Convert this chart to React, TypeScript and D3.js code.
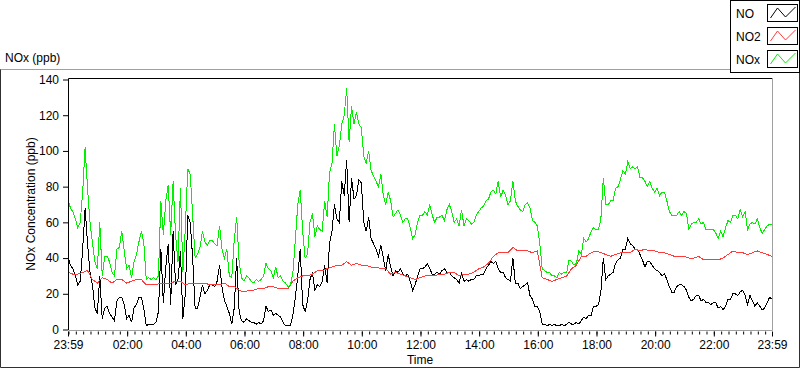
import { useRef, useEffect } from 'react';
import * as d3 from 'd3';

// NO and NOx are read every 5 minutes, NO2 every 10 minutes, starting at 23:59
const NO_STEP = 5;
const NOX_STEP = 5;
const NO2_STEP = 10;

const NO_VALUES = [
  41, 36, 34, 30, 25, 27, 45, 68, 48, 32, 25, 12, 9, 30, 6, 12, 13, 9, 7, 5,
  16, 18, 18, 14, 6, 8, 4, 12, 14, 18, 18, 12, 2, 3, 3, 3, 4, 10, 45, 15,
  35, 48, 14, 55, 25, 28, 44, 6, 20, 64, 60, 40, 12, 12, 18, 25, 20, 22, 25,
  25, 24, 27, 36, 24, 16, 13, 9, 3, 12, 40, 10, 5, 4, 6, 5, 4, 4, 3, 4,
  3, 5, 13, 10, 11, 8, 9, 8, 7, 4, 2, 2, 2, 8, 18, 30, 45, 14, 10, 16,
  28, 32, 22, 25, 24, 27, 36, 26, 48, 55, 70, 62, 60, 83, 75, 95, 60, 85,
  73, 75, 84, 82, 60, 55, 63, 51, 48, 45, 41, 47, 40, 33, 42, 35, 30, 33, 32, 34,
  31, 30, 31, 27, 22, 25, 30, 34, 34, 35, 37, 34, 31, 31, 32, 31, 33, 34, 32, 32,
  30, 29, 28, 26, 32, 27, 28, 27, 28, 28, 30, 30, 31, 31, 34, 36, 38, 37,
  38, 34, 32, 32, 29, 28, 27, 40, 26, 26, 23, 24, 25, 26, 19, 17, 13, 13, 10, 3,
  3, 2, 3, 2, 3, 2, 2, 3, 2, 3, 4, 3, 3, 4, 3, 5, 7, 6, 8, 8,
  13, 13, 14, 21, 40, 28, 30, 31, 32, 37, 39, 40, 45, 45, 51, 48, 47, 45,
  45, 42, 39, 35, 38, 38, 36, 34, 33, 32, 30, 31, 28, 24, 21, 21, 24, 25, 25, 24,
  22, 18, 16, 17, 19, 19, 16, 17, 15, 15, 14, 15, 15, 12, 13, 11, 13, 17, 17, 20,
  20, 19, 21, 22, 19, 14, 19, 16, 13, 15, 13, 11, 12, 15, 18, 17,
];

const NO2_VALUES = [
  32, 31, 31, 32, 33, 28, 26, 29, 28, 26, 28, 28, 26, 27, 28, 28, 25, 25, 25, 26,
  26, 26, 27, 27, 25, 26, 26, 26, 26, 25,
  25, 25, 26, 24, 24, 22, 21, 22, 22, 23, 23, 24, 24, 23, 23, 23, 27, 29, 30, 30,
  31, 33, 33, 34, 35, 36, 36, 38, 36,
  37, 36, 36, 35, 35, 34, 34, 31, 32, 31, 30, 29, 28, 29, 30, 30, 30, 31, 31, 32,
  32, 30, 31, 31, 32, 34, 35, 37, 41,
  43, 43, 43, 46, 44, 44, 44, 43, 44, 29, 28, 27, 28, 29, 30, 34, 36, 41, 41, 43,
  44, 43, 42, 41, 42, 43, 43, 43, 45,
  44, 45, 44, 44, 43, 43, 42, 41, 41, 41, 40, 40, 41, 39, 39, 39, 39, 40, 42, 44,
  43, 43, 42, 43, 44, 43, 42, 41,
];

const NOX_VALUES = [
  73, 68, 66, 62, 57, 60, 77, 102, 79, 60, 49, 38, 34, 60, 30, 41, 41, 38, 32, 30,
  45, 46, 55, 44, 34, 36, 29, 38, 42, 49, 55, 49, 28, 29, 28, 29, 28, 30, 72, 53,
  72, 81, 53, 83, 53, 38, 79, 32, 57, 90, 87, 64, 40, 42, 46, 55, 49, 47, 50,
  50, 48, 47, 58, 45, 40, 45, 30, 29, 50, 63, 38, 29, 27, 30, 29, 27, 26, 28, 27,
  28, 30, 37, 34, 33, 29, 35, 29, 30, 27, 26, 24, 25, 32, 50, 70, 78, 55, 40, 42,
  60, 65, 52, 58, 56, 55, 72, 63, 88, 93, 115, 97, 103, 115, 120, 135, 105, 125,
  115, 122, 115, 113, 97, 93, 100, 89, 86, 83, 80, 87, 75, 70, 77, 72, 63, 65, 67, 64,
  60, 62, 62, 57, 51, 53, 60, 64, 64, 66, 64, 70, 64, 60, 63, 63, 64, 61, 67, 70,
  66, 60, 62, 58, 67, 58, 62, 61, 59, 60, 64, 66, 68, 69, 72, 73, 77, 78,
  76, 83, 74, 78, 75, 70, 72, 83, 72, 69, 67, 66, 70, 71, 68, 61, 60, 58, 48, 34,
  33, 32, 32, 30, 30, 29, 32, 31, 32, 32, 39, 38, 36, 37, 44, 42, 51, 49, 51, 55,
  57, 56, 56, 62, 85, 70, 70, 72, 72, 79, 80, 84, 89, 87, 94, 90, 91, 90,
  91, 85, 85, 83, 80, 83, 79, 77, 79, 75, 77, 77, 72, 66, 64, 64, 64, 66, 64, 66,
  65, 56, 59, 60, 60, 62, 59, 60, 56, 56, 56, 56, 54, 51, 55, 52, 57, 61, 60, 64,
  64, 62, 67, 63, 66, 56, 59, 60, 59, 62, 57, 54, 56, 58, 59, 59,
];

const SERIES_NAMES = ['NO', 'NO2', 'NOx'];
const SERIES_COLORS = ['#000000', '#ff3c3c', '#00f000'];

const Y_TICKS = [0, 20, 40, 60, 80, 100, 120, 140];
const X_TICK_LABELS = [
  '23:59', '02:00', '04:00', '06:00', '08:00', '10:00', '12:00',
  '14:00', '16:00', '18:00', '20:00', '22:00', '23:59',
];

const TOTAL_MINUTES = 1440;
const START = new Date(2024, 0, 1, 23, 59);
const atMinute = (m: number) => new Date(START.getTime() + m * 60000);

// minutes after the 23:59 start for a 'HH:MM' label
const labelMinutes = (label: string, i: number) => {
  if (i === X_TICK_LABELS.length - 1) return TOTAL_MINUTES;
  const [h, m] = label.split(':').map(Number);
  return (h * 60 + m - (23 * 60 + 59) + TOTAL_MINUTES) % TOTAL_MINUTES;
};

const FONT = '"Liberation Sans", Arial, sans-serif';
const WIDTH = 800;
const HEIGHT = 369;

export default function App() {
  const svgRef = useRef<SVGSVGElement>(null);

  useEffect(() => {
    if (!svgRef.current) return;
    const svg = d3.select(svgRef.current);
    svg.selectAll('*').remove();

    const plot = { left: 68, right: 772, top: 78, bottom: 330 };

    const x = d3.scaleTime()
      .domain([START, atMinute(TOTAL_MINUTES)])
      .range([plot.left, plot.right]);
    const y = d3.scaleLinear()
      .domain([0, 140])
      .range([329.5, 79.5]);

    // panel frame
    svg.append('line')
      .attr('x1', 0).attr('x2', 730).attr('y1', 69.5).attr('y2', 69.5)
      .attr('stroke', '#a0a0a0');
    svg.append('path')
      .attr('d', 'M0.5,69.5V367.5H799.5V72')
      .attr('fill', 'none')
      .attr('stroke', '#303030');

    svg.append('text')
      .attr('x', 5).attr('y', 62)
      .attr('font-family', FONT).attr('font-size', 12)
      .text('NOx (ppb)');

    // plot area
    svg.append('rect')
      .attr('x', plot.left).attr('y', plot.top)
      .attr('width', plot.right - plot.left).attr('height', plot.bottom - plot.top)
      .attr('fill', '#fff');

    const series = [
      { values: NO_VALUES, step: NO_STEP },
      { values: NO2_VALUES, step: NO2_STEP },
      { values: NOX_VALUES, step: NOX_STEP },
    ];

    const lines = svg.append('g').attr('shape-rendering', 'crispEdges');
    series.forEach((s, k) => {
      const line = d3.line<number>()
        .x((_, i) => x(atMinute(i * s.step)))
        .y(d => y(d));
      lines.append('path')
        .attr('d', line(s.values))
        .attr('fill', 'none')
        .attr('stroke', SERIES_COLORS[k])
        .attr('stroke-width', 1);
    });

    // plot border: dark top/left, grey bottom/right
    svg.append('path')
      .attr('d', `M${plot.left + 0.5},${plot.bottom}V${plot.top + 0.5}H${plot.right}`)
      .attr('fill', 'none').attr('stroke', '#000');
    svg.append('path')
      .attr('d', `M${plot.left + 0.5},${plot.bottom + 0.5}H${plot.right + 0.5}V${plot.top}`)
      .attr('fill', 'none').attr('stroke', '#a0a0a0');

    // y axis
    const yAxis = svg.append('g')
      .attr('transform', `translate(${plot.left},0)`)
      .call(d3.axisLeft(y).tickValues(Y_TICKS).tickSize(5).tickPadding(4));
    yAxis.select('.domain').remove();
    yAxis.selectAll('text').attr('font-family', FONT).attr('font-size', 12).attr('fill', '#000');

    // x axis: minor ticks every 15 minutes, labelled major ticks
    const minorTicks = d3.range(1, TOTAL_MINUTES + 1, 15).map(atMinute);
    const xMinor = svg.append('g')
      .attr('transform', `translate(0,${plot.bottom + 1.5})`)
      .call(d3.axisBottom(x).tickValues(minorTicks).tickSize(3).tickFormat(() => ''));
    xMinor.select('.domain').remove();

    const majorTicks = X_TICK_LABELS.map((l, i) => atMinute(labelMinutes(l, i)));
    const xMajor = svg.append('g')
      .attr('transform', `translate(0,${plot.bottom + 1.5})`)
      .call(
        d3.axisBottom(x)
          .tickValues(majorTicks)
          .tickSize(5)
          .tickPadding(3.5)
          .tickFormat((_, i) => X_TICK_LABELS[i])
      );
    xMajor.select('.domain').remove();
    xMajor.selectAll('text').attr('font-family', FONT).attr('font-size', 12).attr('fill', '#000');

    // axis titles
    svg.append('text')
      .attr('x', (plot.left + plot.right) / 2).attr('y', 364)
      .attr('text-anchor', 'middle')
      .attr('font-family', FONT).attr('font-size', 12)
      .text('Time');
    svg.append('text')
      .attr('transform', `translate(35,${(plot.top + plot.bottom) / 2}) rotate(-90)`)
      .attr('text-anchor', 'middle')
      .attr('font-family', FONT).attr('font-size', 12)
      .text('NOx Concentration (ppb)');

    // legend
    const legend = svg.append('g');
    legend.append('rect')
      .attr('x', 730.5).attr('y', 0.5).attr('width', 69).attr('height', 72)
      .attr('fill', '#fff').attr('stroke', '#000');
    const sample: [number, number][] = [[3, 14], [10, 4], [18, 13], [28, 3]];
    SERIES_NAMES.forEach((name, i) => {
      const top = 4 + i * 23;
      legend.append('text')
        .attr('x', 736).attr('y', 18 + i * 23)
        .attr('font-family', FONT).attr('font-size', 12)
        .text(name);
      legend.append('rect')
        .attr('x', 767.5).attr('y', top + 0.5).attr('width', 30).attr('height', 17)
        .attr('fill', '#fff').attr('stroke', '#000');
      legend.append('path')
        .attr('d', d3.line()(sample.map(([sx, sy]) => [767.5 + sx, top + sy])))
        .attr('fill', 'none')
        .attr('stroke', SERIES_COLORS[i]);
    });
  }, []);

  return (
    <svg
      ref={svgRef}
      width={WIDTH}
      height={HEIGHT}
      style={{ position: 'absolute', left: 0, top: 0, background: '#fff' }}
    />
  );
}
